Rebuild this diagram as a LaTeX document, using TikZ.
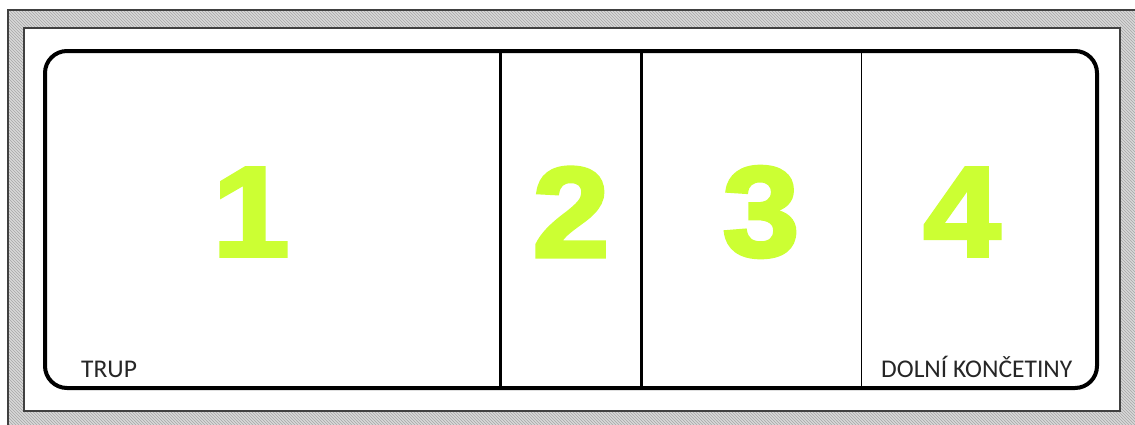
\documentclass[tikz,border=0pt]{standalone}
\usepackage{fontspec}
\setmainfont{Carlito}
\newfontfamily\numfont[FakeBold=3, FakeStretch=1.08]{Liberation Sans Bold}
\usetikzlibrary{patterns}
\definecolor{numgreen}{HTML}{CCFF33}
\definecolor{framegray}{HTML}{404040}
\tikzset{
  num/.style={font=\numfont\fontsize{128}{128}\selectfont, text=numgreen, inner sep=0pt, anchor=center},
  lbl/.style={font=\fontsize{25.5}{27}\selectfont, text=black!85, inner sep=0pt, anchor=base west},
  thickdiv/.style={line width=3pt, black},
  thindiv/.style={line width=1pt, black}
}
\begin{document}
\begin{tikzpicture}[x=1pt,y=-1pt]
\useasboundingbox (0,0) rectangle (1135,424);
% hatched outer area
\fill[gray!30] (8,10) rectangle (1140,430);
\fill[pattern=north west lines, pattern color=gray!70] (8,10) rectangle (1140,430);
\draw[framegray, line width=2pt] (8,430) -- (8,10) -- (1140,10);
% inner white sheet
\draw[fill=white, draw=framegray, line width=1.2pt] (24,28) rectangle (1120,411);
% rounded main box
\draw[line width=4pt, rounded corners=22pt] (45,51) rectangle (1097,388);
\coordinate (d1t) at (500,51); \coordinate (d1b) at (500,388);
\coordinate (d2t) at (641,51); \coordinate (d2b) at (641,388);
\coordinate (d3t) at (861,51); \coordinate (d3b) at (861,388);
\draw[thickdiv] (d1t) -- (d1b);
\draw[thickdiv] (d2t) -- (d2b);
\draw[thindiv] (d3t) -- (d3b);
% numbers
\node[num] (n1) at (251,212) {1};
\node[num] (n2) at (571,212) {2};
\node[num] (n3) at (761,212) {3};
\node[num] (n4) at (962,212) {4};
% labels
\node[lbl] (trup) at (81,377) {TRUP};
\node[lbl] (dk) at (881,377) {DOLNÍ KONČETINY};
\end{tikzpicture}
\end{document}
